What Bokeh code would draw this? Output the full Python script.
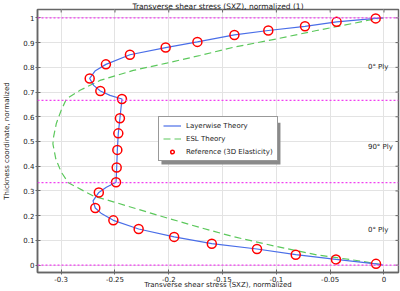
from bokeh.plotting import figure
from bokeh.models import (Range1d, FixedTicker, Span, Label,
                          Legend, LegendItem, BoxAnnotation)
from bokeh.embed import file_html
from bokeh.resources import INLINE

FONT = "DejaVu Sans"

# ---- data ----
x_ticks = [-0.3, -0.25, -0.2, -0.15, -0.1, -0.05, 0.0]
x_tick_labels = ["-0.3", "-0.25", "-0.2", "-0.15", "-0.1", "-0.05", "0"]
y_ticks = [0.0, 0.1, 0.2, 0.3, 0.4, 0.5, 0.6, 0.7, 0.8, 0.9, 1.0]
y_tick_labels = ["0", "0.1", "0.2", "0.3", "0.4", "0.5", "0.6", "0.7", "0.8", "0.9", "1"]

ply_interfaces = [0.0, 1/3, 2/3, 1.0]

layerwise_x = [-0.001, -0.0074, -0.0446, -0.082, -0.118, -0.160, -0.195, -0.228,
               -0.2515, -0.263, -0.2683, -0.2704, -0.265, -0.258, -0.249,
               -0.2484, -0.2478, -0.2469, -0.2454, -0.2435, -0.2546, -0.2636,
               -0.2698, -0.2735, -0.2686, -0.2584, -0.2361, -0.2029, -0.1734,
               -0.139, -0.1075, -0.0734, -0.044, -0.0077, -0.001]
layerwise_y = [0.0, 0.005, 0.023, 0.042, 0.065, 0.087, 0.114, 0.146,
               0.181, 0.21, 0.231, 0.26, 0.294, 0.315, 0.335,
               0.395, 0.466, 0.533, 0.594, 0.672, 0.6865, 0.704,
               0.727, 0.755, 0.785, 0.812, 0.851, 0.880, 0.903,
               0.931, 0.949, 0.966, 0.984, 0.998, 1.0]

esl_x = [-0.002, -0.0254, -0.0626, -0.0997, -0.140, -0.171, -0.2113, -0.2515,
         -0.270, -0.2933, -0.300, -0.305, -0.3077, -0.307, -0.3045, -0.300,
         -0.295, -0.2825, -0.264, -0.233, -0.202, -0.171, -0.140, -0.0997,
         -0.0626, -0.0285, -0.0084, 0.0]
esl_y = [0.002, 0.0185, 0.0415, 0.075, 0.115, 0.152, 0.203, 0.256,
         0.279, 0.333, 0.377, 0.43, 0.49, 0.52, 0.573, 0.626,
         0.673, 0.707, 0.747, 0.7875, 0.817, 0.848, 0.881, 0.915,
         0.949, 0.978, 0.996, 1.0]

ref_x = [-0.0074, -0.0446, -0.082, -0.118, -0.160, -0.195, -0.228, -0.2515,
         -0.2683, -0.265, -0.249, -0.2484, -0.2478, -0.2469, -0.2454, -0.2435,
         -0.2636, -0.2735, -0.2584, -0.2361, -0.2029, -0.1734, -0.139, -0.1075,
         -0.0734, -0.044, -0.0077]
ref_y = [0.005, 0.023, 0.042, 0.065, 0.086, 0.114, 0.146, 0.181,
         0.231, 0.294, 0.335, 0.395, 0.466, 0.533, 0.594, 0.672,
         0.704, 0.755, 0.812, 0.851, 0.880, 0.903, 0.931, 0.949,
         0.966, 0.984, 0.998]

ply_labels = ["0\u00b0 Ply", "90\u00b0 Ply", "0\u00b0 Ply"]
ply_label_y = [0.80, 0.478, 0.142]

X0, X1 = -0.322, 0.0135
Y0, Y1 = -0.03, 1.034

# ---- figure ----
p = figure(width=400, height=291, output_backend="svg", toolbar_location=None,
           x_range=Range1d(X0, X1), y_range=Range1d(Y0, Y1),
           min_border_left=37, min_border_right=2, min_border_top=9,
           min_border_bottom=18,
           title="Transverse shear stress (SXZ), normalized (1)")
p.background_fill_color = "white"
p.border_fill_color = "white"
p.outline_line_color = "#666666"
p.outline_line_width = 1.5

p.title.text_font = FONT
p.title.text_font_size = "7.5px"
p.title.text_font_style = "normal"
p.title.text_color = "#222222"
p.title.align = "center"
p.title.standoff = -2
p.title.offset = 0

def style_axis(ax):
    ax.axis_line_color = "#666666"
    ax.axis_line_width = 1.5
    ax.major_tick_line_color = "#666666"
    ax.major_tick_in = 3
    ax.major_tick_out = 2
    ax.minor_tick_line_color = None
    ax.major_label_text_font = FONT
    ax.major_label_text_font_size = "7px"
    ax.major_label_text_color = "#222222"
    ax.axis_label_text_font = FONT
    ax.axis_label_text_font_size = "7px"
    ax.axis_label_text_font_style = "normal"
    ax.axis_label_text_color = "#222222"

xa = p.xaxis[0]
xa.ticker = FixedTicker(ticks=x_ticks)
xa.major_label_overrides = dict(zip(x_ticks, x_tick_labels))
xa.axis_label = "Transverse shear stress (SXZ), normalized"
style_axis(xa)
xa.major_label_standoff = 1
xa.axis_label_standoff = -4

ya = p.yaxis[0]
ya.ticker = FixedTicker(ticks=y_ticks)
ya.major_label_overrides = dict(zip(y_ticks, y_tick_labels))
ya.axis_label = "Thickness coordinate, normalized"
style_axis(ya)
ya.major_label_standoff = 1
ya.axis_label_standoff = 9

p.xgrid.ticker = FixedTicker(ticks=x_ticks)
p.ygrid.ticker = FixedTicker(ticks=y_ticks)
for g in (p.xgrid[0], p.ygrid[0]):
    g.grid_line_color = "#e3e3e3"
    g.grid_line_width = 1

# inward ticks on the top and right frame edges, placed at the tick values
tick_len_y = (Y1 - Y0) * 3 / 264
tick_len_x = (X1 - X0) * 3 / 361
p.segment(x0=x_ticks, x1=x_ticks, y0=[Y1] * len(x_ticks),
          y1=[Y1 - tick_len_y] * len(x_ticks), line_color="#666666", line_width=1)
p.segment(x0=[X1] * len(y_ticks), x1=[X1 - tick_len_x] * len(y_ticks),
          y0=y_ticks, y1=y_ticks, line_color="#666666", line_width=1)

for yv in ply_interfaces:
    p.add_layout(Span(location=yv, dimension="width", line_color="#f040f0",
                      line_width=1.3, line_dash="2 2"))

esl = p.line(esl_x, esl_y, line_color="#5cc85c", line_width=1.2, line_dash="7 4")
lw = p.line(layerwise_x, layerwise_y, line_color="#4a6ee8", line_width=1.2)
ref = p.scatter(ref_x, ref_y, marker="circle", size=9, fill_color=None,
                line_color="#ff0000", line_width=1.5)

for txt, yv in zip(ply_labels, ply_label_y):
    p.add_layout(Label(x=-0.0149, y=yv, text=txt, text_font=FONT,
                       text_font_size="7px", text_color="#222222",
                       text_baseline="middle", text_align="left"))

# legend shadow
p.add_layout(BoxAnnotation(left=-0.2068, right=-0.0962, bottom=0.4065, top=0.5758,
                           fill_color="#8a8a8a", fill_alpha=1.0, line_color=None,
                           level="overlay"))

legend = Legend(items=[LegendItem(label="Layerwise Theory", renderers=[lw]),
                       LegendItem(label="ESL Theory", renderers=[esl]),
                       LegendItem(label="Reference (3D Elasticity)", renderers=[ref])],
                location=(121, 111))
legend.label_text_font = FONT
legend.label_text_font_size = "7px"
legend.label_text_color = "#222222"
legend.glyph_width = 18
legend.glyph_height = 9
legend.label_height = 9
legend.label_standoff = 5
legend.spacing = 4
legend.padding = 4
legend.margin = 0
legend.border_line_color = "#333333"
legend.border_line_width = 1
legend.background_fill_alpha = 1.0
legend.level = "overlay"
p.add_layout(legend, "center")

open("out.html", "w").write(file_html(p, INLINE))
